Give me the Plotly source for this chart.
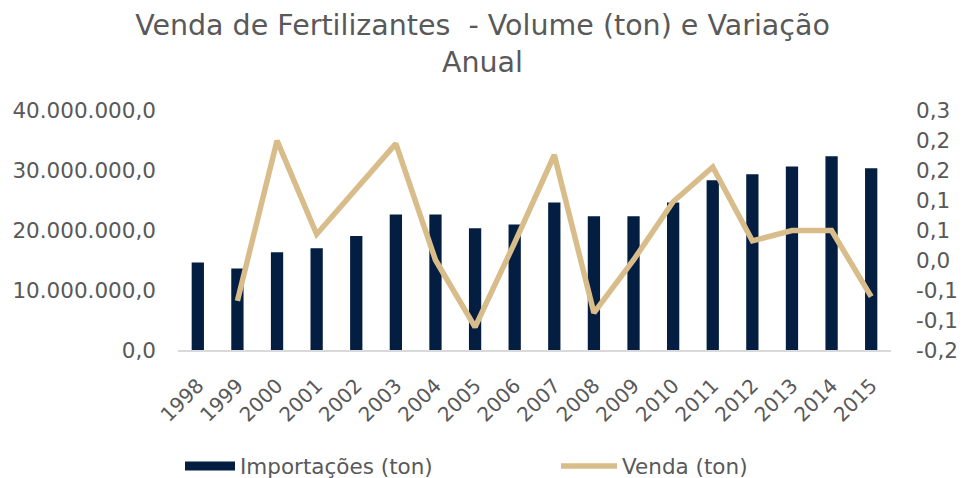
import plotly.graph_objects as go

years = [str(y) for y in range(1998, 2016)]
importacoes = [14.6e6, 13.6e6, 16.3e6, 16.95e6, 19.0e6, 22.6e6, 22.6e6, 20.3e6, 20.9e6,
               24.6e6, 22.3e6, 22.3e6, 24.6e6, 28.3e6, 29.3e6, 30.6e6, 32.3e6, 30.3e6]
venda = [None, -0.068, 0.199, 0.043, 0.119, 0.194, 0.0, -0.112, 0.029,
         0.175, -0.088, 0.0, 0.097, 0.155, 0.032, 0.049, 0.049, -0.061]

y1_ticks = [0, 10e6, 20e6, 30e6, 40e6]
y1_text = ["0,0", "10.000.000,0", "20.000.000,0", "30.000.000,0", "40.000.000,0"]
y2_ticks = [-0.15, -0.10, -0.05, 0.0, 0.05, 0.10, 0.15, 0.20, 0.25]
y2_text = ["-0,2", "-0,1", "-0,1", "0,0", "0,1", "0,1", "0,2", "0,2", "0,3"]

NAVY = "#041E42"
TAN = "#D8BC8A"
GRAY = "#595959"
FONT = "DejaVu Sans"

fig = go.Figure()
fig.add_trace(go.Bar(x=years, y=importacoes, name="Importações (ton)",
                     marker=dict(color=NAVY, line=dict(width=0)), yaxis="y",
                     showlegend=False))
# legend entry drawn as a wide navy swatch like the original
fig.add_trace(go.Scatter(x=[None], y=[None], name="Importações (ton)", mode="lines",
                         line=dict(color=NAVY, width=9), legend="legend"))
fig.add_trace(go.Scatter(x=years, y=venda, name="Venda (ton)", mode="lines",
                         line=dict(color=TAN, width=5.5), yaxis="y2", legend="legend2"))

legend_common = dict(orientation="h", xanchor="left", y=-116 / 240, yanchor="middle",
                     bgcolor="rgba(0,0,0,0)",
                     font=dict(family=FONT, size=21.5, color=GRAY))

fig.update_layout(
    width=965, height=478,
    margin=dict(l=178, r=74, t=110, b=128, autoexpand=False),
    paper_bgcolor="white", plot_bgcolor="white",
    bargap=0.69,
    showlegend=True,
    title=dict(text="Venda de Fertilizantes \u00a0- Volume (ton) e Variação<br>Anual",
               x=0.5, xanchor="center", xref="container",
               y=1 - 35 / 478, yanchor="middle", yref="container",
               font=dict(family=FONT, size=28.5, color=GRAY)),
    xaxis=dict(type="category", tickangle=-45, showgrid=False, zeroline=False,
               showline=True, linecolor="#D9D9D9", linewidth=2, ticks="",
               ticklabelstandoff=14,
               tickfont=dict(family=FONT, size=20, color=GRAY)),
    yaxis=dict(range=[0, 40e6], tickvals=y1_ticks, ticktext=y1_text, showgrid=False,
               zeroline=False, showline=False, ticks="", ticklabelstandoff=21,
               tickfont=dict(family=FONT, size=21.5, color=GRAY)),
    yaxis2=dict(range=[-0.15, 0.25], tickvals=y2_ticks, ticktext=y2_text, overlaying="y",
                side="right", showgrid=False, zeroline=False, showline=False, ticks="",
                ticklabelstandoff=24,
                tickfont=dict(family=FONT, size=21.5, color=GRAY)),
    legend=dict(x=2 / 713, itemwidth=50, **legend_common),
    legend2=dict(x=378 / 713, itemwidth=56, **legend_common),
)

fig.write_html("out.html", config={"displayModeBar": False},
               post_script="document.body.style.margin='0';")
